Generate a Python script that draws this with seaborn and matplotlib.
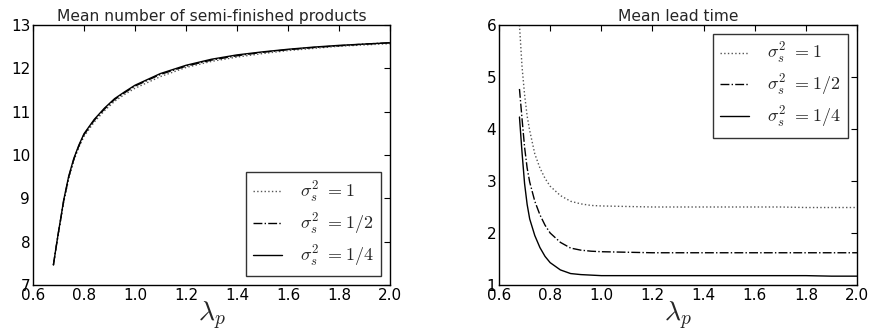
import numpy as np
import pandas as pd
import matplotlib
matplotlib.use("Agg")
import matplotlib.pyplot as plt
import seaborn as sns

# common lambda_p grid
lam = [0.68, 0.69, 0.70, 0.71, 0.72, 0.74, 0.76, 0.78, 0.80, 0.84, 0.88, 0.92,
       0.96, 1.0, 1.1, 1.2, 1.3, 1.4, 1.5, 1.6, 1.7, 1.8, 1.9, 2.0]

# mean number of semi-finished products
wip_var1 = [7.46, 7.84, 8.20, 8.55, 8.90, 9.45, 9.87, 10.18, 10.43, 10.76, 11.02, 11.24,
            11.40, 11.54, 11.81, 12.02, 12.16, 12.26, 12.34, 12.41, 12.46, 12.51, 12.54, 12.57]
wip_var2 = [7.46, 7.85, 8.22, 8.57, 8.93, 9.49, 9.90, 10.21, 10.47, 10.80, 11.06, 11.28,
            11.44, 11.59, 11.86, 12.05, 12.19, 12.29, 12.37, 12.43, 12.48, 12.52, 12.56, 12.59]
wip_var4 = [7.46, 7.85, 8.23, 8.58, 8.95, 9.51, 9.92, 10.23, 10.49, 10.82, 11.08, 11.30,
            11.46, 11.61, 11.88, 12.07, 12.21, 12.31, 12.38, 12.44, 12.49, 12.53, 12.56, 12.59]

# mean lead time
lt_var1 = [6.00, 5.20, 4.66, 4.25, 3.97, 3.52, 3.25, 3.05, 2.90, 2.72, 2.61, 2.56,
           2.53, 2.52, 2.51, 2.50, 2.50, 2.50, 2.50, 2.50, 2.50, 2.49, 2.49, 2.49]
lt_var2 = [4.77, 4.20, 3.65, 3.25, 2.98, 2.61, 2.35, 2.15, 2.00, 1.82, 1.71, 1.67,
           1.65, 1.64, 1.63, 1.62, 1.62, 1.62, 1.62, 1.62, 1.62, 1.62, 1.62, 1.62]
lt_var4 = [4.23, 3.55, 2.95, 2.55, 2.27, 1.95, 1.72, 1.55, 1.43, 1.29, 1.22, 1.20,
           1.19, 1.18, 1.18, 1.18, 1.18, 1.18, 1.18, 1.18, 1.18, 1.18, 1.17, 1.17]

labels = [r'$\sigma_s^2$ $=1$', r'$\sigma_s^2$ $=1/2$', r'$\sigma_s^2$ $=1/4$']
styles = [':', '-.', '-']
colors = ['#555555', 'black', 'black']

sns.set_theme(style='white')
plt.rcParams['font.family'] = ['DejaVu Sans']
plt.rcParams['mathtext.fontset'] = 'cm'
plt.rcParams['xtick.direction'] = 'in'
plt.rcParams['ytick.direction'] = 'in'

fig = plt.figure(figsize=(8.73, 3.36), dpi=100)
ax1 = fig.add_axes([0.0378, 0.1518, 0.4089, 0.7738])
ax2 = fig.add_axes([0.5716, 0.1518, 0.4101, 0.7738])


def draw(ax, series, title, ylim, yticks, loc):
    for vals, lab, ls, c in zip(series, labels, styles, colors):
        df = pd.DataFrame({'lam': lam, 'val': vals})
        sns.lineplot(data=df, x='lam', y='val', ax=ax, color=c, linestyle=ls,
                     linewidth=1.0, label=lab)
    ax.set_xlim(0.6, 2.0)
    ax.set_ylim(*ylim)
    ax.set_xticks(np.arange(0.6, 2.01, 0.2))
    ax.set_xticklabels([f'{t:.1f}' for t in np.arange(0.6, 2.01, 0.2)])
    ax.set_yticks(yticks)
    ax.tick_params(axis='both', labelsize=11, length=4, width=0.8, colors='black',
                   top=True, right=True, pad=2)
    for s in ax.spines.values():
        s.set_color('black')
        s.set_linewidth(1.0)
    ax.set_title(title, fontsize=11.2, pad=3)
    ax.set_xlabel(r'$\lambda_p$', fontsize=20, labelpad=-2)
    ax.set_ylabel('')
    leg = ax.legend(loc=loc, fontsize=13, frameon=True, fancybox=False,
                    handlelength=1.6, handletextpad=1.0, borderpad=0.4,
                    labelspacing=0.36, borderaxespad=0.5)
    leg.get_frame().set_edgecolor('black')
    leg.get_frame().set_linewidth(1.0)


draw(ax1, [wip_var1, wip_var2, wip_var4], 'Mean number of semi-finished products',
     (7, 13), range(7, 14), 'lower right')
draw(ax2, [lt_var1, lt_var2, lt_var4], 'Mean lead time',
     (1, 6), range(1, 7), 'upper right')

fig.savefig('out.png', dpi=100)
